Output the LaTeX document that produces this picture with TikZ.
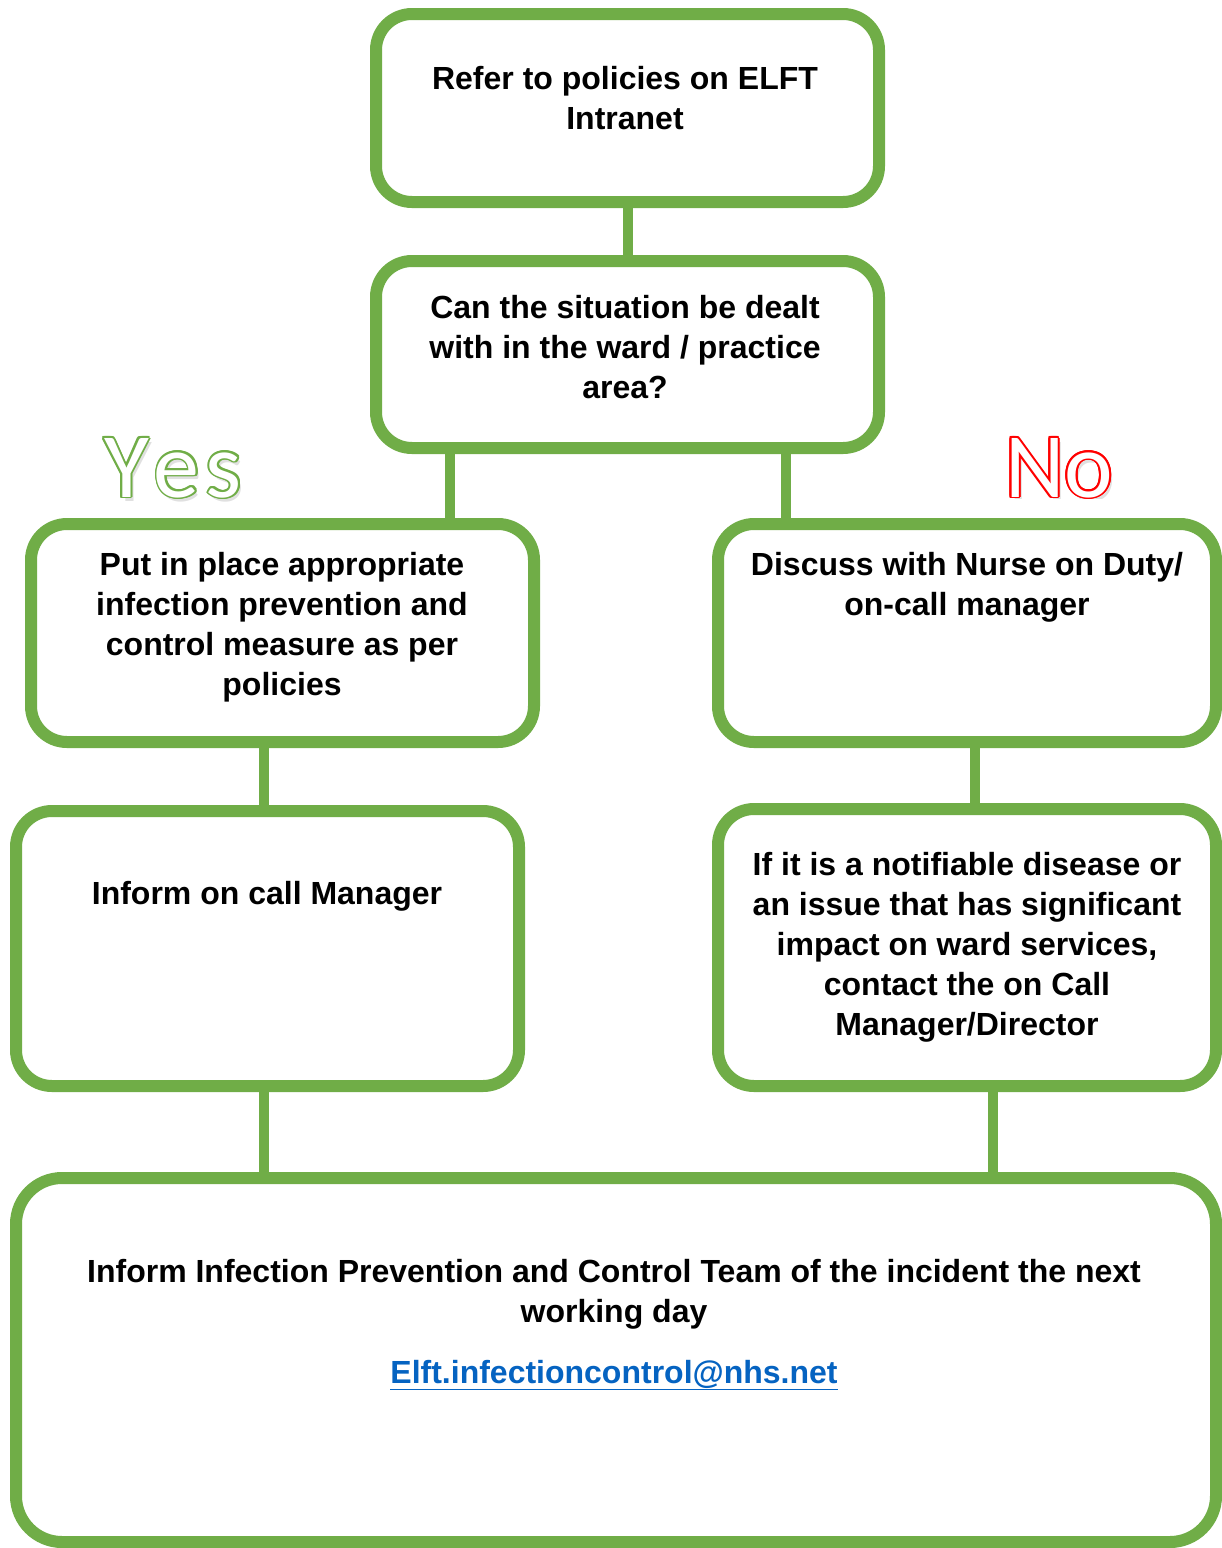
\documentclass[tikz,border=0pt]{standalone}
\usepackage{fontspec}
\setmainfont{Liberation Sans}
\newfontfamily\wordfont{Carlito}
\usetikzlibrary{calc}

\definecolor{boxgreen}{HTML}{70AD47}
\definecolor{nored}{HTML}{FF0000}
\definecolor{mailblue}{HTML}{0563C1}

\newcommand{\yesword}{Y\kern5pt e\kern6pt s}

\tikzset{
  panel/.style={draw=boxgreen, line width=12pt, rounded corners=36pt, fill=white, inner sep=0pt},
  bodytext/.style={font=\bfseries\fontsize{32}{40}\selectfont, align=center, inner sep=0pt},
  joint/.style={draw=boxgreen, line width=10pt},
  bigword/.style={font=\wordfont\fontsize{92}{92}\selectfont, inner sep=0pt, anchor=base west}
}

\begin{document}
\begin{tikzpicture}[x=1pt,y=-1pt]
                \useasboundingbox (0,0) rectangle (1222,1548);
                % boxes
                \node[panel, minimum width=503pt, minimum height=188pt] (refer) at (627.5,108) {};
                \node[panel, minimum width=503pt, minimum height=187pt] (situation) at (627.5,354.5) {};
                \node[panel, minimum width=503pt, minimum height=218pt] (put) at (282.5,633) {};
                \node[panel, minimum width=498pt, minimum height=218pt] (discuss) at (967,633) {};
                \node[panel, minimum width=503pt, minimum height=275pt] (inform) at (267.5,948.5) {};
                \node[panel, minimum width=498pt, minimum height=277pt] (notify) at (967,947.5) {};
                \node[panel, minimum width=1200pt, minimum height=364pt, rounded corners=46pt] (team) at (616,1360) {};
                % connectors
                \draw[joint] (refer.south) -- (situation.north);
                \draw[joint] ([xshift=-178pt]situation.south) -- ([xshift=-178pt]situation.south |- put.north);
                \draw[joint] ([xshift=158pt]situation.south) -- ([xshift=158pt]situation.south |- discuss.north);
                \draw[joint] ([xshift=-19pt]put.south) -- ([xshift=-19pt]put.south |- inform.north);
                \draw[joint] ([xshift=8pt]discuss.south) -- ([xshift=8pt]discuss.south |- notify.north);
                \draw[joint] ([xshift=-4pt]inform.south) -- ([xshift=-4pt]inform.south |- team.north);
                \draw[joint] ([xshift=26pt]notify.south) -- ([xshift=26pt]notify.south |- team.north);
                % texts
                \node[bodytext] (refertxt) at (625,98) {Refer to policies on ELFT\\Intranet};
                \node[bodytext] (situationtxt) at (625,347) {Can the situation be dealt\\with in the ward / practice\\area?};
                \node[bodytext] (puttxt) at (282,627) {Put in place appropriate\\infection prevention and\\control measure as per\\policies};
                \node[bodytext] (discusstxt) at (967,587) {Discuss with Nurse on Duty/\\on-call manager};
                \node[bodytext] (informtxt) at (267,896) {Inform on call Manager};
                \node[bodytext] (notifytxt) at (967,947) {If it is a notifiable disease or\\an issue that has significant\\impact on ward services,\\contact the on Call\\Manager/Director};
                \node[bodytext] (teamtxt) at (614,1294) {Inform Infection Prevention and Control Team of the incident the next\\working day};
                \node[bodytext, text=mailblue] (mailtxt) at (614,1375) {\underline{Elft.infectioncontrol@nhs.net}};
                % Yes
                \coordinate (yespos) at (104,497);
                \node[bigword, text=black, opacity=0.12] (yesshade) at ([shift={(3,4)}]yespos) {\yesword};
                \foreach \ang [count=\k] in {0,22.5,...,337.5}
                  \node[bigword, text=boxgreen] (yesrim\k) at ([shift={(\ang:1.8)}]yespos) {\yesword};
                \node[bigword, text=white] (yestxt) at (yespos) {\yesword};
                % No
                \begin{scope}
                  \clip (990,400) rectangle (1140,498);
                  \coordinate (nopos) at (1005,497);
                  \node[bigword, text=black, opacity=0.12] (noshade) at ([shift={(3,4)}]nopos) {No};
                  \foreach \ang [count=\k] in {0,22.5,...,337.5}
                    \node[bigword, text=nored] (norim\k) at ([shift={(\ang:1.8)}]nopos) {No};
                  \node[bigword, text=white] (notxt) at (nopos) {No};
                \end{scope}
            \end{tikzpicture}
\end{document}
